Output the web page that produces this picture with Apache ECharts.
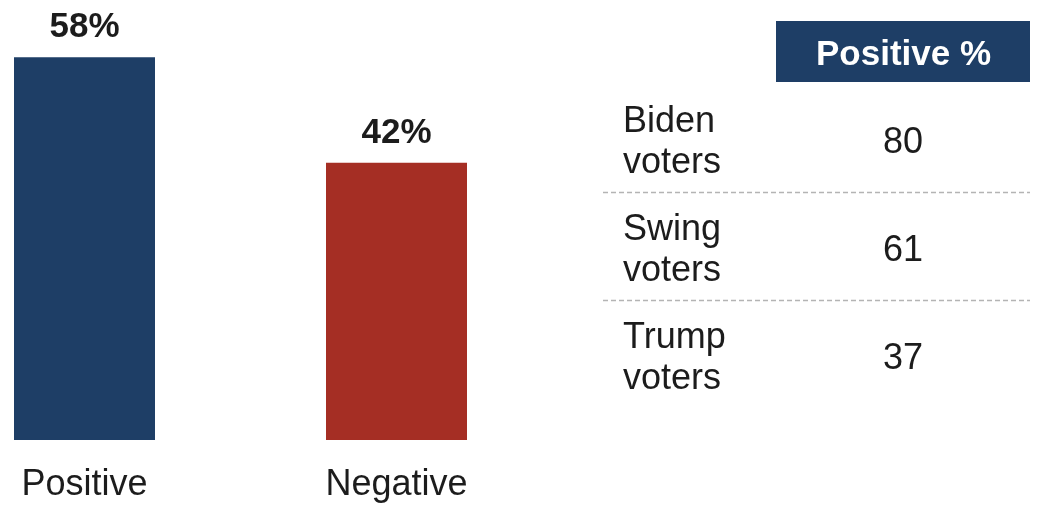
<!DOCTYPE html>
<html>
<head>
<meta charset="utf-8">
<style>
  html, body { margin: 0; padding: 0; background: #fff; }
  #chart { width: 1038px; height: 505px; }
</style>
<script src="https://cdn.jsdelivr.net/npm/echarts@6/dist/echarts.min.js"></script>
</head>
<body>
<div id="chart"></div>
<script>
// Overall sentiment
const categories = ['Positive', 'Negative'];
const shares = [58, 42];
const barColors = ['#1e3e66', '#a52e24'];

// Positive share by voter group
const groupLabels = ['Biden\nvoters', 'Swing\nvoters', 'Trump\nvoters'];
const groupPositive = [80, 61, 37];
const tableHeader = 'Positive %';

const FONT = '"Liberation Sans", Arial, Helvetica, sans-serif';
const TEXT = '#1c1c1c';

const chart = echarts.init(document.getElementById('chart'));

// Table layout on the right
const tableLeft = 603, tableRight = 1030;
const rowTop = 86, rowHeight = 108;
const labelX = 623, valueX = 903;

const graphics = [
  {
    type: 'rect',
    shape: { x: 776, y: 21, width: 254, height: 61 },
    style: { fill: '#1e3e66' }
  },
  {
    type: 'text',
    x: 903.5, y: 55,
    style: {
      text: tableHeader, fill: '#ffffff', font: 'bold 35px ' + FONT,
      align: 'center', verticalAlign: 'middle'
    }
  }
];

groupLabels.forEach(function (label, i) {
  const cy = rowTop + rowHeight * i + 57;
  graphics.push({
    type: 'text',
    x: labelX, y: cy,
    style: {
      text: label, fill: TEXT, font: '36px ' + FONT,
      lineHeight: 41, align: 'left', verticalAlign: 'middle'
    }
  });
  graphics.push({
    type: 'text',
    x: valueX, y: cy,
    style: {
      text: String(groupPositive[i]), fill: TEXT, font: '36px ' + FONT,
      align: 'center', verticalAlign: 'middle'
    }
  });
  if (i < groupLabels.length - 1) {
    const ly = rowTop + rowHeight * (i + 1) - 1.5;
    graphics.push({
      type: 'line',
      shape: { x1: tableLeft, y1: ly, x2: tableRight, y2: ly },
      style: { stroke: '#b4b4b4', lineWidth: 1.5, lineDash: [5, 3] }
    });
  }
});

chart.setOption({
  animation: false,
  backgroundColor: '#ffffff',
  textStyle: { fontFamily: FONT },
  // category ticks sit on the grid edges; bars are centred on them
  grid: { left: 84.5, width: 312, top: 44, bottom: 65, containLabel: false },
  xAxis: {
    type: 'category',
    data: categories,
    boundaryGap: false,
    axisLine: { show: false },
    axisTick: { show: false },
    axisLabel: { color: TEXT, fontSize: 36, fontFamily: FONT, margin: 27 }
  },
  yAxis: {
    type: 'value',
    min: 0, max: 60,
    show: false,
    splitLine: { show: false }
  },
  series: [{
    type: 'bar',
    barWidth: 141,
    clip: false,
    data: shares.map(function (v, i) {
      return { value: v, itemStyle: { color: barColors[i] } };
    }),
    label: {
      show: true,
      position: 'top',
      distance: 12,
      formatter: '{c}%',
      color: TEXT,
      fontSize: 35,
      fontWeight: 'bold',
      fontFamily: FONT
    }
  }],
  graphic: graphics
});
</script>
</body>
</html>
